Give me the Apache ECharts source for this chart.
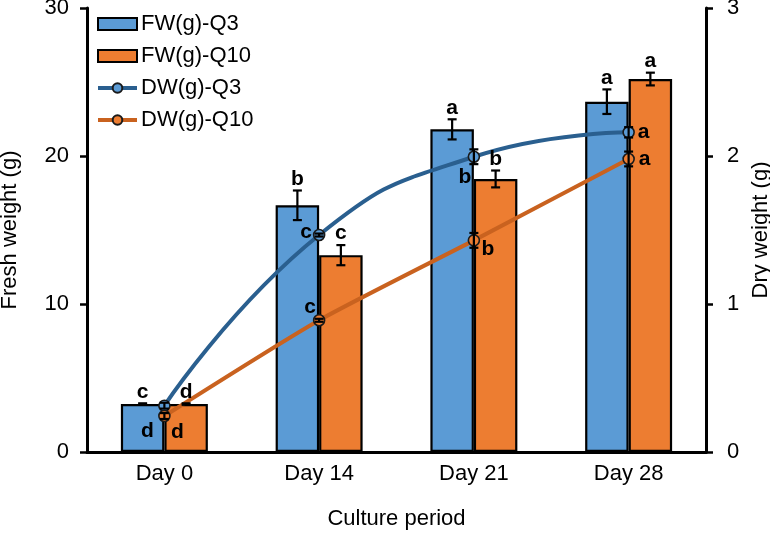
<!DOCTYPE html>
<html>
<head>
<meta charset="utf-8">
<script src="https://cdn.jsdelivr.net/npm/echarts@6/dist/echarts.min.js"></script>
<style>
html,body{margin:0;padding:0;background:#fff;}
#chart{width:770px;height:536px;}
</style>
</head>
<body>
<div id="chart"></div>
<script>
// ---- data ----
const categories = ['Day 0', 'Day 14', 'Day 21', 'Day 28'];
const fwQ3 = [3.24, 16.67, 21.8, 23.67];
const fwQ3Err = [0.05, 1.0, 0.68, 0.83];
const fwQ10 = [3.24, 13.3, 18.45, 25.2];
const fwQ10Err = [0.05, 0.68, 0.57, 0.43];
const dwQ3 = [0.313, 1.466, 1.995, 2.16];
const dwQ3Err = [0.02, 0.01, 0.05, 0.035];
const dwQ10 = [0.243, 0.89, 1.43, 1.98];
const dwQ10Err = [0.02, 0.01, 0.05, 0.05];
const fwQ3Letters = ['c', 'b', 'a', 'a'];
const fwQ10Letters = ['d', 'c', 'b', 'a'];
const dwQ3Letters = ['d', 'c', 'b', 'a'];
const dwQ10Letters = ['d', 'c', 'b', 'a'];
const leftTicks = { min: 0, max: 30, interval: 10 };
const rightTicks = { min: 0, max: 3, interval: 1 };

// ---- styling (not data) ----
const FONT = "'Liberation Sans', Arial, sans-serif";
const BAR_W = 0.281;
const dwQ3LabelOffset = [[-17, 26], [-13, -3], [-9, 20], [15, 0]];
const dwQ10LabelOffset = [[13, 16], [-9, -13], [14, 9], [16, 0]];
const LETTER_FONT = 'bold 21px ' + FONT;
const BLUE_LINE = '#2A5F8F', ORANGE_LINE = '#C9621F';

function errShapes(x, yTop, yBot, cap) {
  const st = { stroke: '#000', lineWidth: 2.2 };
  return [
    { type: 'line', shape: { x1: x, y1: yTop, x2: x, y2: yBot }, style: st },
    { type: 'line', shape: { x1: x - cap, y1: yTop, x2: x + cap, y2: yTop }, style: st },
    { type: 'line', shape: { x1: x - cap, y1: yBot, x2: x + cap, y2: yBot }, style: st }
  ];
}

function fwRender(sign, letters) {
  return function (params, api) {
    const i = api.value(0), v = api.value(1), e = api.value(2);
    const band = api.size([1, 0])[0];
    const dx = sign * band * BAR_W / 2;
    const top = api.coord([i, v + e]);
    const bot = api.coord([i, v - e]);
    const x = top[0] + dx;
    const children = errShapes(x, top[1], bot[1], 4.5);
    children.push({
      type: 'text',
      style: {
        x: x, y: top[1] - 1, text: letters[params.dataIndex],
        font: LETTER_FONT, fill: '#000', align: 'center', verticalAlign: 'bottom'
      }
    });
    return { type: 'group', children: children };
  };
}

function dwRender(letters, offsets) {
  return function (params, api) {
    const i = api.value(0), v = api.value(1), e = api.value(2);
    const c = api.coord([i, v]);
    const top = api.coord([i, v + e]);
    const bot = api.coord([i, v - e]);
    const children = errShapes(c[0], top[1], bot[1], 4.5);
    const off = offsets[params.dataIndex];
    children.push({
      type: 'text',
      style: {
        x: c[0] + off[0], y: c[1] + off[1], text: letters[params.dataIndex],
        font: LETTER_FONT, fill: '#000', align: 'center', verticalAlign: 'middle'
      }
    });
    return { type: 'group', children: children };
  };
}

const chart = echarts.init(document.getElementById('chart'), null, { renderer: 'canvas' });
const axisLabelStyle = { fontSize: 22, color: '#000', fontFamily: FONT };
const nameStyle = { fontSize: 22, color: '#000', fontFamily: FONT };

chart.setOption({
  animation: false,
  backgroundColor: '#fff',
  textStyle: { fontFamily: FONT },
  grid: { left: 87, right: 64, top: 8, bottom: 84, containLabel: false, outerBoundsMode: 'none' },
  legend: {
    orient: 'vertical',
    left: 96,
    top: 13,
    padding: 0,
    itemWidth: 39,
    itemHeight: 12,
    itemGap: 10,
    textStyle: { fontSize: 22, color: '#000', fontFamily: FONT, padding: [0, 0, 0, -1] },
    data: [
      { name: 'FW(g)-Q3', icon: 'rect' },
      { name: 'FW(g)-Q10', icon: 'rect' },
      { name: 'DW(g)-Q3', lineStyle: { color: BLUE_LINE, width: 4 } },
      { name: 'DW(g)-Q10', lineStyle: { color: ORANGE_LINE, width: 4 } }
    ]
  },
  xAxis: {
    type: 'category',
    data: categories,
    axisLine: { lineStyle: { color: '#000', width: 3 } },
    axisTick: { show: false },
    axisLabel: Object.assign({ margin: 11 }, axisLabelStyle),
    name: 'Culture period',
    nameLocation: 'middle',
    nameGap: 56,
    nameTextStyle: nameStyle
  },
  yAxis: [
    {
      type: 'value',
      min: leftTicks.min, max: leftTicks.max, interval: leftTicks.interval,
      axisLine: { show: true, lineStyle: { color: '#000', width: 3 } },
      axisTick: { show: true, length: 7, lineStyle: { color: '#000', width: 2.5 } },
      splitLine: { show: false },
      axisLabel: Object.assign({ margin: 18 }, axisLabelStyle),
      name: 'Fresh weight (g)',
      nameLocation: 'middle',
      nameRotate: 90,
      nameGap: 66,
      nameTextStyle: nameStyle
    },
    {
      type: 'value',
      position: 'right',
      min: rightTicks.min, max: rightTicks.max, interval: rightTicks.interval,
      axisLine: { show: true, lineStyle: { color: '#000', width: 3 } },
      axisTick: { show: true, length: 7, lineStyle: { color: '#000', width: 2.5 } },
      splitLine: { show: false },
      axisLabel: Object.assign({ margin: 21 }, axisLabelStyle),
      name: 'Dry weight (g)',
      nameLocation: 'middle',
      nameRotate: 90,
      nameGap: 44,
      nameTextStyle: nameStyle
    }
  ],
  series: [
    {
      name: 'FW(g)-Q3', type: 'bar', yAxisIndex: 0,
      data: fwQ3,
      barWidth: (BAR_W * 100) + '%', barGap: '0%',
      itemStyle: { color: '#5B9BD5', borderColor: '#000', borderWidth: 2.2 },
      z: 2
    },
    {
      name: 'FW(g)-Q10', type: 'bar', yAxisIndex: 0,
      data: fwQ10,
      barWidth: (BAR_W * 100) + '%', barGap: '0%',
      itemStyle: { color: '#ED7D31', borderColor: '#000', borderWidth: 2.2 },
      z: 2
    },
    {
      name: 'DW(g)-Q3', type: 'line', yAxisIndex: 1,
      data: dwQ3,
      smooth: 0.5,
      symbol: 'circle', symbolSize: 11,
      lineStyle: { color: BLUE_LINE, width: 4 },
      itemStyle: { color: '#5B9BD5', borderColor: '#1a1a1a', borderWidth: 1.6 },
      z: 4
    },
    {
      name: 'DW(g)-Q10', type: 'line', yAxisIndex: 1,
      data: dwQ10,
      smooth: 0.2,
      symbol: 'circle', symbolSize: 11,
      lineStyle: { color: ORANGE_LINE, width: 4 },
      itemStyle: { color: '#ED7D31', borderColor: '#1a1a1a', borderWidth: 1.6 },
      z: 4
    },
    {
      type: 'custom', yAxisIndex: 0, z: 5, silent: true,
      renderItem: fwRender(-1, fwQ3Letters),
      data: fwQ3.map((v, i) => [i, v, fwQ3Err[i]]),
      encode: { x: 0, y: 1 }
    },
    {
      type: 'custom', yAxisIndex: 0, z: 5, silent: true,
      renderItem: fwRender(1, fwQ10Letters),
      data: fwQ10.map((v, i) => [i, v, fwQ10Err[i]]),
      encode: { x: 0, y: 1 }
    },
    {
      type: 'custom', yAxisIndex: 1, z: 6, silent: true,
      renderItem: dwRender(dwQ3Letters, dwQ3LabelOffset),
      data: dwQ3.map((v, i) => [i, v, dwQ3Err[i]]),
      encode: { x: 0, y: 1 }
    },
    {
      type: 'custom', yAxisIndex: 1, z: 6, silent: true,
      renderItem: dwRender(dwQ10Letters, dwQ10LabelOffset),
      data: dwQ10.map((v, i) => [i, v, dwQ10Err[i]]),
      encode: { x: 0, y: 1 }
    }
  ]
});
</script>
</body>
</html>
